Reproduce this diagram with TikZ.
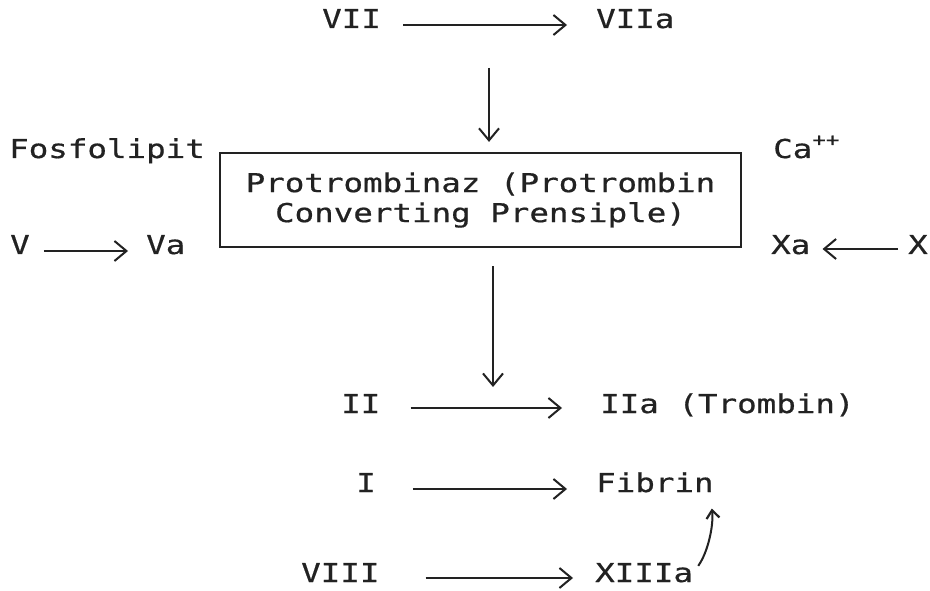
\documentclass[tikz,border=0pt]{standalone}
\usepackage{fontspec}
\newfontfamily\tw[FakeStretch=1.25,FakeBold=0.6]{DejaVu Sans Mono}
\usetikzlibrary{arrows.meta}
\definecolor{ink}{HTML}{222222}
\begin{document}
\begin{tikzpicture}[x=1pt,y=-1pt,
  lbl/.style={font=\tw\fontsize{26}{30}\selectfont, inner sep=0pt, text=ink, anchor=base west},
  conn/.style={draw=ink, line width=2pt, -{Straight Barb[length=12pt,width=20pt,line width=2pt]}},
  curv/.style={draw=ink, line width=2pt, -{Straight Barb[length=8pt,width=13pt,line width=2.2pt]}},
  boxst/.style={draw=ink, line width=2.2pt, minimum width=521pt, minimum height=94pt, inner sep=0pt,
    align=center, text=ink, font=\tw\fontsize{26}{30}\selectfont}]
\useasboundingbox (0,0) rectangle (930,591);
\fill[white] (0,0) rectangle (930,591);
% top row
\node[lbl] (vii) at (322,28) {VII};
\node[lbl] (viia) at (596,28) {VIIa};
\draw[conn] ([shift={(22,-3)}]vii.base east) -- ([shift={(-29,-3)}]viia.base west);
% box
\node[boxst] (box) at (480.5,200) {Protrombinaz (Protrombin\\Converting Prensiple)};
\node[lbl] (fos) at (9,158) {Fosfolipit};
\node[lbl] (ca) at (773,158) {Ca{\fontsize{18}{20}\selectfont\raisebox{12pt}{++}}};
\coordinate (d1) at (489,68);
\draw[conn, shorten >=10pt] (d1) -- (d1 |- box.north);
% side rows
\node[lbl] (v) at (10,254) {V};
\node[lbl] (va) at (146,254) {Va};
\draw[conn] ([shift={(14,-3)}]v.base east) -- ([shift={(-18,-3)}]va.base west);
\node[lbl] (xa) at (771,254) {Xa};
\node[lbl] (x) at (908,254) {X};
\draw[conn] ([shift={(-10,-5)}]x.base west) -- ([shift={(12,-5)}]xa.base east);
% lower arrow
\coordinate (d2) at (493,266);
\coordinate (d2e) at (493,387);
\draw[conn] (d2) -- (d2e);
% II row
\node[lbl] (ii) at (341,413) {II};
\node[lbl] (iia) at (600,413) {IIa (Trombin)};
\draw[conn] ([shift={(30,-5)}]ii.base east) -- ([shift={(-38,-5)}]iia.base west);
% I row
\node[lbl] (i) at (356,492) {I};
\node[lbl] (fib) at (596,492) {Fibrin};
\draw[conn] ([shift={(37,-3)}]i.base east) -- ([shift={(-29,-3)}]fib.base west);
% VIII row
\node[lbl] (viii) at (301,582) {VIII};
\node[lbl] (xiiia) at (595,582) {XIIIa};
\draw[conn] ([shift={(46,-4)}]viii.base east) -- ([shift={(-22,-4)}]xiiia.base west);
% curved arrow
\draw[curv] ([shift={(5,3)}]xiiia.north east) .. controls +(10,-14) and +(2,16) .. ([shift={(-2,16)}]fib.south east);
\end{tikzpicture}
\end{document}
